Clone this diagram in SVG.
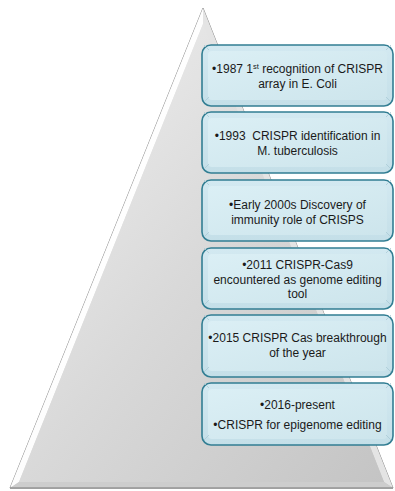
<svg xmlns="http://www.w3.org/2000/svg" width="395" height="491" viewBox="0 0 395 491">
  <defs>
    <linearGradient id="triFill" x1="0" y1="0" x2="1" y2="1">
      <stop offset="0" stop-color="#f2f2f2"/>
      <stop offset="0.5" stop-color="#d9d9d9"/>
      <stop offset="1" stop-color="#c4c4c4"/>
    </linearGradient>
    <linearGradient id="boxFill" x1="0" y1="0" x2="0" y2="1">
      <stop offset="0" stop-color="#d3e9f1"/>
      <stop offset="1" stop-color="#c4dfe8"/>
    </linearGradient>
    <linearGradient id="boxInner" x1="0" y1="0" x2="1" y2="1">
      <stop offset="0" stop-color="#dbeff5"/>
      <stop offset="1" stop-color="#cde5ec"/>
    </linearGradient>
    <g id="bevels">
      <line x1="204" y1="2" x2="209" y2="7"/>
      <line x1="391" y1="2" x2="386" y2="7"/>
      <line x1="204" y1="59" x2="209" y2="54"/>
      <line x1="391" y1="59" x2="386" y2="54"/>
    </g>
  </defs>
  <style>
    .box { fill: url(#boxFill); stroke: #327e93; stroke-width: 1.6; }
    .inner { fill: url(#boxInner); stroke: none; }
    .bev { stroke: #a9cad5; stroke-width: 0.8; fill: none; }
    .t { font-family: "Liberation Sans", Arial, sans-serif; font-size: 12px; fill: #1a1a1a; text-anchor: middle; }
    .sup { font-size: 7.5px; }
  </style>

  <g id="pyramid">
    <polygon points="203,8 10,488 393,488" fill="url(#triFill)" stroke="#8f8f8f" stroke-width="1"/>
    <polygon points="203,8 10,488 19,482 203,24" fill="#ffffff" opacity="0.95"/>
    <polygon points="203,8 393,488 384,482 203,24" fill="#e4e4e4"/>
    <polygon points="10,488 393,488 384,482 19,482" fill="#cdcdcd"/>
    <polygon points="203,24 19,482 384,482" fill="url(#triFill)"/>
    <line x1="10" y1="488" x2="393" y2="488" stroke="#7a7a7a" stroke-width="1.2"/>
  </g>

  <g id="node1">
    <rect class="box" x="202" y="45" width="191" height="61" rx="9"/>
    <rect class="inner" x="208" y="51" width="179" height="49" rx="4"/>
    <use href="#bevels" class="bev" y="43"/>
    <text class="t" x="297.5" y="73">•1987 1<tspan class="sup" dy="-4">st</tspan><tspan dy="4"> recognition of CRISPR</tspan></text>
    <text class="t" x="297.5" y="88">array in E. Coli</text>
  </g>

  <g id="node2">
    <rect class="box" x="202" y="112" width="191" height="61" rx="9"/>
    <rect class="inner" x="208" y="118" width="179" height="49" rx="4"/>
    <use href="#bevels" class="bev" y="110"/>
    <text class="t" x="297.5" y="140" xml:space="preserve">•1993  CRISPR identification in</text>
    <text class="t" x="297.5" y="155">M. tuberculosis</text>
  </g>

  <g id="node3">
    <rect class="box" x="202" y="180" width="191" height="61" rx="9"/>
    <rect class="inner" x="208" y="186" width="179" height="49" rx="4"/>
    <use href="#bevels" class="bev" y="178"/>
    <text class="t" x="297.5" y="209">•Early 2000s Discovery of</text>
    <text class="t" x="297.5" y="224">immunity role of CRISPS</text>
  </g>

  <g id="node4">
    <rect class="box" x="202" y="248" width="191" height="61" rx="9"/>
    <rect class="inner" x="208" y="254" width="179" height="49" rx="4"/>
    <use href="#bevels" class="bev" y="246"/>
    <text class="t" x="297.5" y="269">•2011 CRISPR-Cas9</text>
    <text class="t" x="297.5" y="283.5">encountered as genome editing</text>
    <text class="t" x="297.5" y="298">tool</text>
  </g>

  <g id="node5">
    <rect class="box" x="202" y="315" width="191" height="62" rx="9"/>
    <rect class="inner" x="208" y="321" width="179" height="50" rx="4"/>
    <use href="#bevels" class="bev" y="313"/>
    <text class="t" x="297.5" y="342">•2015 CRISPR Cas breakthrough</text>
    <text class="t" x="297.5" y="357">of the year</text>
  </g>

  <g id="node6">
    <rect class="box" x="202" y="383" width="191" height="62" rx="9"/>
    <rect class="inner" x="208" y="389" width="179" height="50" rx="4"/>
    <use href="#bevels" class="bev" y="381"/>
    <text class="t" x="297.5" y="409">•2016-present</text>
    <text class="t" x="297.5" y="429">•CRISPR for epigenome editing</text>
  </g>

  <g id="connectors"></g>
</svg>
